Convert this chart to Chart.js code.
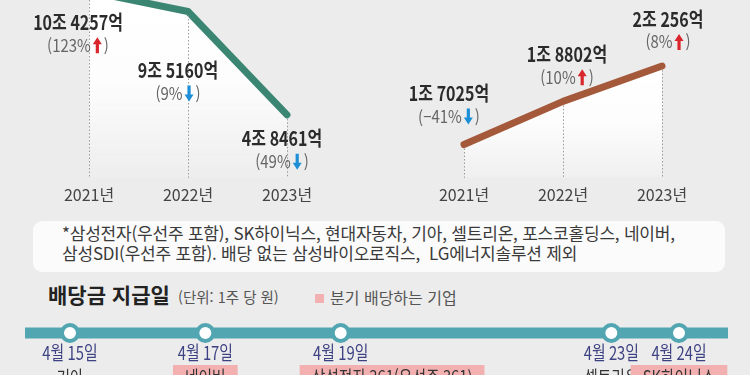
<!DOCTYPE html>
<html lang="ko">
<head>
<meta charset="utf-8">
<title>배당금 지급일</title>
<script src="https://cdn.jsdelivr.net/npm/chart.js@4.4.1/dist/chart.umd.min.js"></script>
<style>
  html, body { margin: 0; padding: 0; }
  body {
    width: 750px; height: 375px; overflow: hidden; position: relative;
    background: #ececec;
    font-family: 'Noto Sans CJK KR', sans-serif;
  }
  canvas { position: absolute; }
  #chartLeft { left: 0; top: 0; }
  #chartRight { left: 375px; top: 0; }
  #timeline { left: 0; top: 310px; }
  #note {
    position: absolute; left: 33px; top: 221px; width: 692px; height: 51px;
    background: #fbfbfb; border-radius: 9px; box-sizing: border-box;
    padding: 2px 0 0 29px; color: #3a3a3a; font-size: 17px; line-height: 20px;
    letter-spacing: -0.2px;
  }
  #title {
    position: absolute; left: 48px; top: 280px; font-size: 21px; line-height: 28px;
    font-weight: bold; color: #222;
  }
  #unit {
    position: absolute; left: 178px; top: 286px; font-size: 14.5px; line-height: 22px; color: #555;
  }
  #legend {
    position: absolute; left: 315px; top: 286px; font-size: 16px; line-height: 22px; color: #555;
  }
  #legend i {
    display: inline-block; width: 9px; height: 9px; background: #f3b0b0; margin-right: 6px;
    vertical-align: 1px;
  }
</style>
</head>
<body>
<canvas id="chartLeft" width="375" height="213"></canvas>
<canvas id="chartRight" width="375" height="213"></canvas>
<div id="note">*삼성전자(우선주 포함), SK하이닉스, 현대자동차, 기아, 셀트리온, 포스코홀딩스, 네이버,<br>삼성SDI(우선주 포함). 배당 없는 삼성바이오로직스, &nbsp;LG에너지솔루션 제외</div>
<div id="title">배당금 지급일</div>
<div id="unit">(단위: 1주 당 원)</div>
<div id="legend"><i></i>분기 배당하는 기업</div>
<canvas id="timeline" width="750" height="65"></canvas>
<script>
// 연도
const years = ['2021년', '2022년', '2023년'];

// 왼쪽 차트 (단위: 조 원)
const leftValues = [10.4257, 9.5160, 4.8461];
const leftTexts = ['10조 4257억', '9조 5160억', '4조 8461억'];
const leftChanges = ['123%', '9%', '49%'];
const leftUp = [true, false, false];

// 오른쪽 차트 (단위: 조 원)
const rightValues = [1.7025, 1.8802, 2.0256];
const rightTexts = ['1조 7025억', '1조 8802억', '2조 256억'];
const rightChanges = ['−41%', '10%', '8%'];
const rightUp = [false, true, true];

// 배당금 지급일
const payDays = [15, 17, 19, 23, 24];
const payDates = ['4월 15일', '4월 17일', '4월 19일', '4월 23일', '4월 24일'];
const payCompanies = ['기아', '네이버', '삼성전자 361(우선주 361)', '셀트리온', 'SK하이닉스'];
const quarterly = [false, true, true, false, true];

// 라벨 위치 (점 기준 오프셋)
const leftOffsets = [[-11, 31], [-10, 59], [-5, 24]];
const rightOffsets = [[-15, -51], [4, -47], [6, -47]];
const nameAlign = ['center', 'center', 'left', 'center', 'center'];

const FONT = '"Noto Sans CJK KR", sans-serif';

// 가로로 좁힌 글씨
function drawText(ctx, text, x, y, font, color, sx, align) {
    ctx.save();
    ctx.font = font;
    ctx.fillStyle = color;
    ctx.textAlign = align || 'center';
    ctx.textBaseline = 'middle';
    ctx.translate(x, y);
    ctx.scale(sx, 1);
    ctx.fillText(text, 0, 0);
    ctx.restore();
}

function drawArrow(ctx, x, y, up) {
    const h = 16, hw = 4.5, headH = 7, sw = 1.6;
    const d = up ? -1 : 1;
    const tip = y + d * h / 2;
    const base = y - d * h / 2;
    const neck = tip - d * headH;
    ctx.save();
    ctx.fillStyle = up ? '#d9262c' : '#1d8fd6';
    ctx.beginPath();
    ctx.moveTo(x, tip);
    ctx.lineTo(x + hw, neck);
    ctx.lineTo(x + sw, neck);
    ctx.lineTo(x + sw, base);
    ctx.lineTo(x - sw, base);
    ctx.lineTo(x - sw, neck);
    ctx.lineTo(x - hw, neck);
    ctx.closePath();
    ctx.fill();
    ctx.restore();
}

// (123%↑) 모양
function drawChange(ctx, text, up, cx, cy) {
    const sx = 0.88, aw = 9, gap = 2;
    ctx.save();
    ctx.font = '17px ' + FONT;
    const w1 = ctx.measureText('(' + text).width * sx;
    const w2 = ctx.measureText(')').width * sx;
    ctx.restore();
    let x = cx - (w1 + gap + aw + gap + w2) / 2;
    drawText(ctx, '(' + text, x, cy, '17px ' + FONT, '#666', sx, 'left');
    x += w1 + gap;
    drawArrow(ctx, x + aw / 2, cy, up);
    x += aw + gap;
    drawText(ctx, ')', x, cy, '17px ' + FONT, '#666', sx, 'left');
}

function labelPlugin(texts, changes, ups, offsets) {
    return {
        id: 'valueLabels',
        afterDatasetsDraw(chart) {
            const ctx = chart.ctx;
            const pts = chart.getDatasetMeta(0).data;
            const bottom = chart.chartArea.bottom;
            // 점선
            ctx.save();
            ctx.strokeStyle = '#9a9a9a';
            ctx.lineWidth = 1;
            ctx.setLineDash([1.5, 2]);
            pts.forEach(p => {
                ctx.beginPath();
                ctx.moveTo(Math.round(p.x) + 0.5, Math.max(0, p.y + 4));
                ctx.lineTo(Math.round(p.x) + 0.5, bottom);
                ctx.stroke();
            });
            ctx.restore();
            pts.forEach((p, i) => {
                const x = p.x + offsets[i][0];
                const y = p.y + offsets[i][1];
                drawText(ctx, texts[i], x, y, 'bold 20px ' + FONT, '#2b2b2b', 0.8);
                drawChange(ctx, changes[i], ups[i], x, y + 23);
            });
        }
    };
}

function fade(top, bottom) {
    return function(context) {
        const chart = context.chart;
        if (!chart.chartArea) return 'rgba(255,255,255,0)';
        const g = chart.ctx.createLinearGradient(0, top, 0, bottom);
        g.addColorStop(0, 'rgba(255,255,255,1)');
        g.addColorStop(0.45, 'rgba(255,255,255,0.85)');
        g.addColorStop(1, 'rgba(255,255,255,0)');
        return g;
    };
}

function lineChart(id, values, color, yMin, yMax, gradTop, gradBottom, plugin) {
    return new Chart(document.getElementById(id), {
        type: 'line',
        data: {
            labels: years,
            datasets: [{
                data: values,
                borderColor: color,
                borderWidth: 7,
                borderCapStyle: 'round',
                borderJoinStyle: 'round',
                pointRadius: 0,
                tension: 0,
                fill: 'start',
                backgroundColor: fade(gradTop, gradBottom),
                clip: false
            }]
        },
        options: {
            responsive: false,
            animation: false,
            layout: { padding: { left: 89, right: 88, top: 0, bottom: 0 } },
            scales: {
                x: {
                    grid: { display: false, drawTicks: false, tickLength: 0 },
                    border: { display: false },
                    ticks: { color: '#444', padding: 8, font: { family: 'Noto Sans CJK KR', size: 16 } }
                },
                y: { display: false, min: yMin, max: yMax }
            },
            plugins: { legend: { display: false }, tooltip: { enabled: false } }
        },
        plugins: [plugin]
    });
}

lineChart('chartLeft', leftValues, '#3b8672', 2.0, 10.035, 0, 190,
    labelPlugin(leftTexts, leftChanges, leftUp, leftOffsets));
lineChart('chartRight', rightValues, '#a4593b', 1.5654, 2.2975, 65, 195,
    labelPlugin(rightTexts, rightChanges, rightUp, rightOffsets));

// 지급일 타임라인
const teal = '#52a6b1';
const timelinePlugin = {
    id: 'timelineTrack',
    beforeDatasetsDraw(chart) {
        const ctx = chart.ctx;
        const y = chart.scales.y.getPixelForValue(0);
        ctx.save();
        ctx.strokeStyle = teal;
        ctx.lineWidth = 11;
        ctx.beginPath();
        ctx.moveTo(chart.chartArea.left, y);
        ctx.lineTo(chart.chartArea.right, y);
        ctx.stroke();
        ctx.restore();
    },
    afterDatasetsDraw(chart) {
        const ctx = chart.ctx;
        const pts = chart.getDatasetMeta(0).data;
        pts.forEach((p, i) => {
            drawText(ctx, payDates[i], p.x, 43, '19px ' + FONT, '#3d4282', 0.78);
            ctx.save();
            ctx.font = '18px ' + FONT;
            const w = ctx.measureText(payCompanies[i]).width * 0.82;
            ctx.restore();
            const boxW = w + 24;
            const left = nameAlign[i] === 'left' ? p.x - 41 : p.x - boxW / 2;
            if (quarterly[i]) {
                ctx.fillStyle = '#f3b0b0';
                ctx.fillRect(left, 55, boxW, 26);
            }
            drawText(ctx, payCompanies[i], left + boxW / 2, 67, '18px ' + FONT, '#333', 0.82);
        });
    }
};

new Chart(document.getElementById('timeline'), {
    type: 'scatter',
    data: {
        datasets: [{
            data: payDays.map(d => ({ x: d, y: 0 })),
            pointRadius: 8,
            pointBorderWidth: 4,
            pointBorderColor: teal,
            pointBackgroundColor: '#ffffff',
            showLine: false
        }]
    },
    options: {
        responsive: false,
        animation: false,
        layout: { padding: { left: 25, right: 22, top: 0, bottom: 31 } },
        scales: {
            x: { type: 'linear', display: false, min: 14.335, max: 24.724 },
            y: { display: false, min: -1, max: 1 }
        },
        plugins: { legend: { display: false }, tooltip: { enabled: false } }
    },
    plugins: [timelinePlugin]
});
</script>
</body>
</html>
